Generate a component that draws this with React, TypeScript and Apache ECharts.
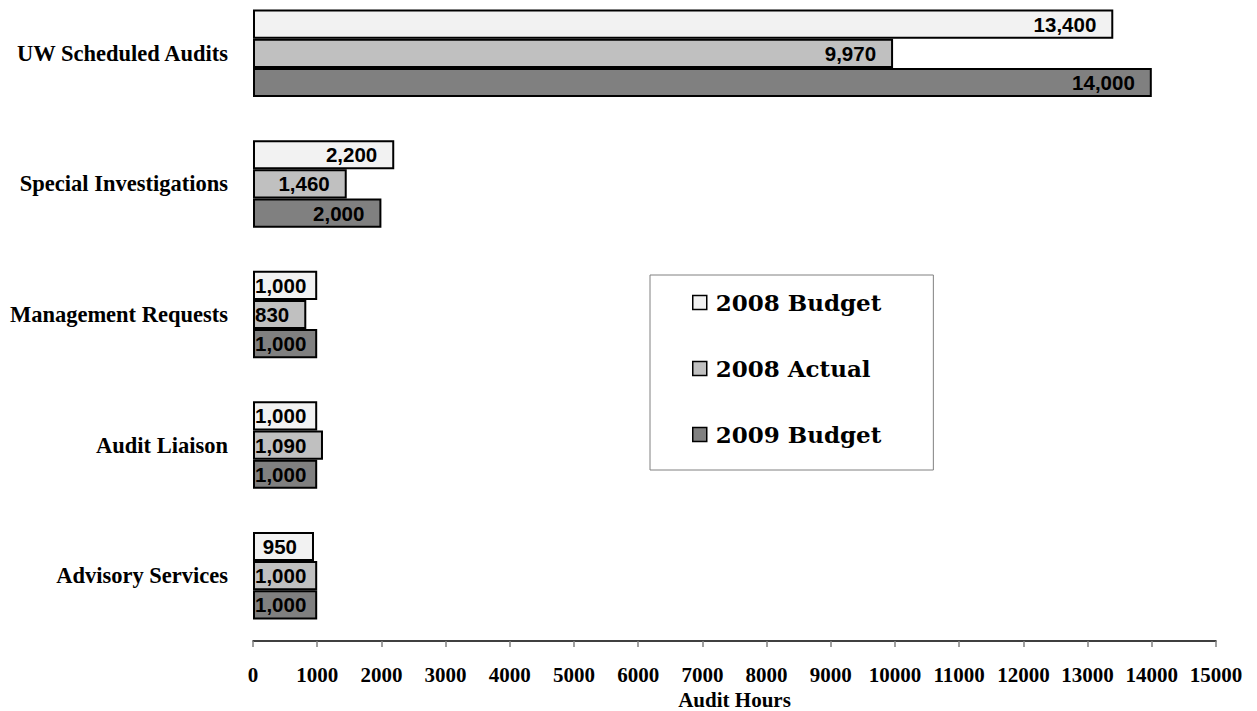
import React, { useEffect, useRef } from "react";
import * as echarts from "echarts";

const categories = [
  "UW Scheduled Audits",
  "Special Investigations",
  "Management Requests",
  "Audit Liaison",
  "Advisory Services",
];
const seriesNames = ["2008 Budget", "2008 Actual", "2009 Budget"];
const budget2008 = [13400, 2200, 1000, 1000, 950];
const actual2008 = [9970, 1460, 830, 1090, 1000];
const budget2009 = [14000, 2000, 1000, 1000, 1000];
const seriesColors = ["#f2f2f2", "#c0c0c0", "#808080"];
const xMax = 15000;
const xInterval = 1000;
const axisTitle = "Audit Hours";

const fmt = (v: number) => v.toLocaleString("en-US");

// the chart is drawn 12px above the page top so the plot band can start above the view
const SHIFT = 12;

function makeData(values: number[]) {
  return values.map((v) => {
    const narrow = v >= 1000 && v < 1200;
    return {
      value: v,
      label: narrow
        ? { position: "insideLeft", distance: 2 }
        : { position: "insideRight", distance: 17 },
    };
  });
}

export default function App() {
  const ref = useRef<HTMLDivElement>(null);
  useEffect(() => {
    if (!ref.current) return;
    const chart = echarts.init(ref.current, null, { renderer: "svg" });
    const all = [budget2008, actual2008, budget2009];
    chart.setOption({
      animation: false,
      backgroundColor: "#ffffff",
      grid: {
        left: 253,
        right: 41,
        top: 0,
        bottom: 70,
        containLabel: false,
        outerBoundsMode: "none",
      },
      legend: {
        orient: "vertical",
        left: 650,
        top: 275 + SHIFT,
        padding: [16, 52, 24, 42],
        itemGap: 43,
        itemWidth: 14,
        itemHeight: 14,
        icon: "rect",
        borderColor: "#808080",
        borderWidth: 1,
        backgroundColor: "#ffffff",
        itemStyle: { borderColor: "#000", borderWidth: 1.5 },
        textStyle: {
          fontFamily: "DejaVu Serif",
          fontWeight: "bold",
          fontSize: 23,
          color: "#000",
          padding: [0, 0, 0, 4],
        },
        data: seriesNames,
      },
      xAxis: {
        type: "value",
        min: 0,
        max: xMax,
        interval: xInterval,
        name: axisTitle,
        nameLocation: "middle",
        nameGap: 44,
        nameTextStyle: {
          fontFamily: "Liberation Serif",
          fontWeight: "bold",
          fontSize: 21,
          lineHeight: 21,
          color: "#000",
        },
        axisLine: { show: true, lineStyle: { color: "#000", width: 1.5 } },
        axisTick: { show: true, length: 6, lineStyle: { color: "#808080", width: 1.5 } },
        axisLabel: {
          margin: 23,
          formatter: (v: number) => String(v),
          fontFamily: "Liberation Serif",
          fontWeight: "bold",
          fontSize: 21,
          color: "#000",
        },
        splitLine: { show: false },
      },
      yAxis: {
        type: "category",
        inverse: true,
        data: categories,
        axisLine: { show: false },
        axisTick: { show: false },
        axisLabel: {
          margin: 25,
          fontFamily: "Liberation Serif",
          fontWeight: "bold",
          fontSize: 22.5,
          color: "#000",
        },
      },
      series: seriesNames.map((name, i) => ({
        name,
        type: "bar",
        barGap: "0%",
        barCategoryGap: "33%",
        data: makeData(all[i]),
        itemStyle: { color: seriesColors[i], borderColor: "#000", borderWidth: 2 },
        label: {
          show: true,
          formatter: (p: any) => fmt(p.value),
          fontFamily: "Liberation Sans",
          fontWeight: "bold",
          fontSize: 20.5,
          color: "#000",
        },
      })),
    });
    return () => chart.dispose();
  }, []);
  return (
    <div
      ref={ref}
      style={{ position: "fixed", left: 0, top: -SHIFT, width: 1257, height: 711 + SHIFT }}
    />
  );
}
